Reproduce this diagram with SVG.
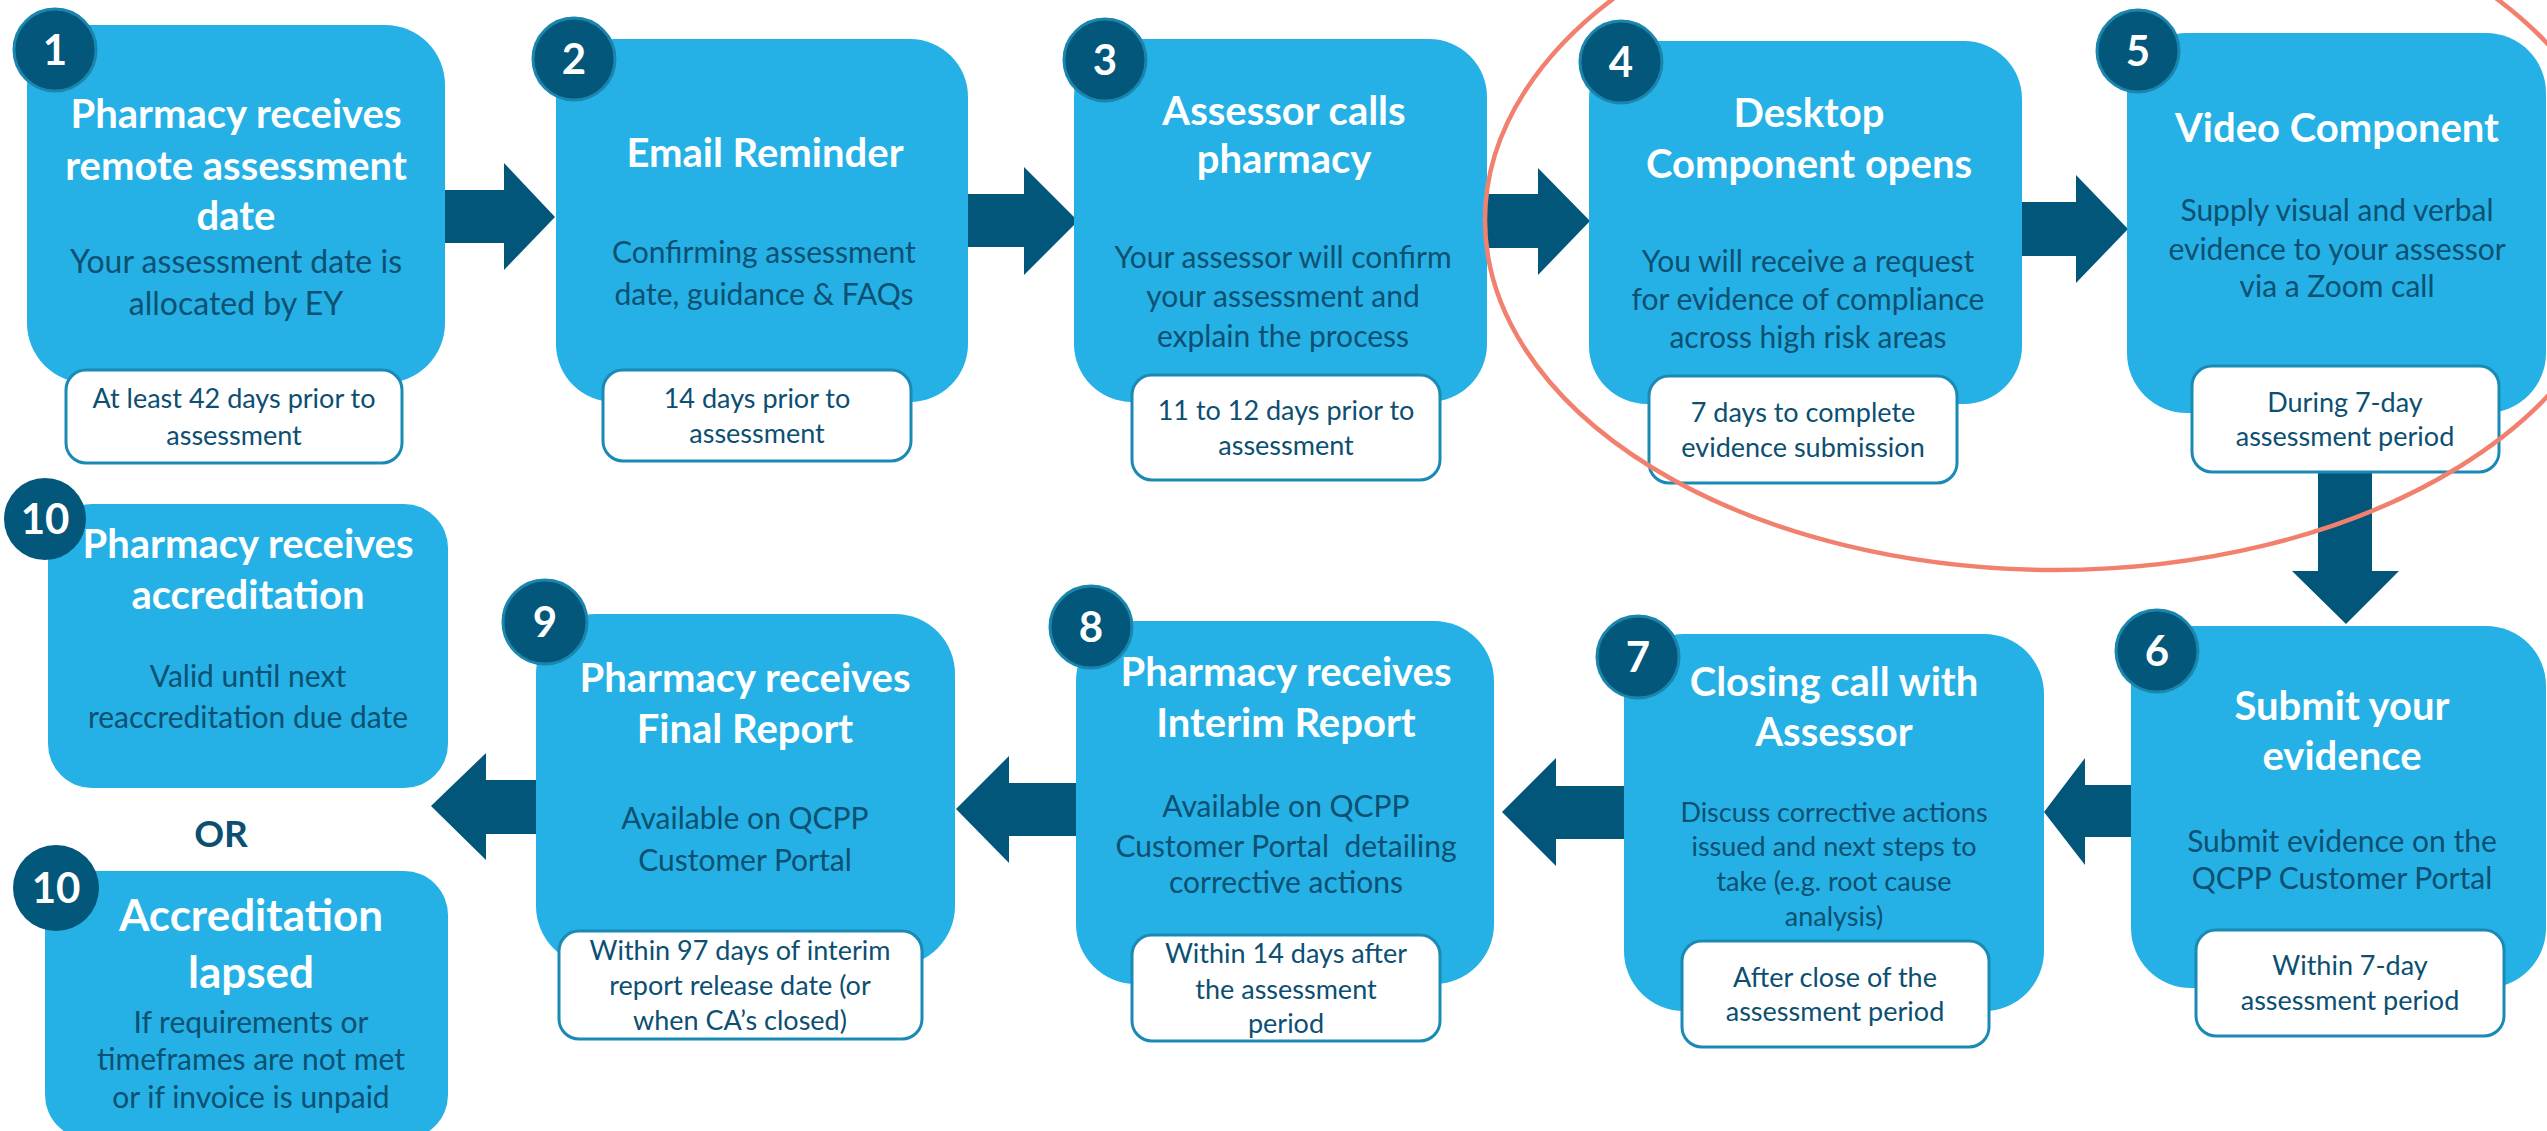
<svg xmlns="http://www.w3.org/2000/svg" width="2547" height="1131" viewBox="0 0 2547 1131">
<style>
.box{fill:#25B1E5}
.sub{fill:#FFFFFF;stroke:#1A8AB5;stroke-width:3}
.num{fill:#02577B;stroke:#1B86AD;stroke-width:3}
.arr{fill:#02567A}
text{font-family:Lato,"Open Sans","Liberation Sans",sans-serif;text-anchor:middle}
.t{fill:#FFFFFF;font-weight:700;font-size:40px}
.n{fill:#FFFFFF;font-weight:700;font-size:42px}
.b{fill:#0C5072;font-size:30px}
.s{fill:#0C4F72;font-size:27px}
.or{fill:#0B4F71;font-weight:700;font-size:37px}
</style>
<rect width="2547" height="1131" fill="#FFFFFF"/>
<g id="connectors">
<polygon class="arr" points="440,190 504,190 504,163 555,217 504,270 504,243 440,243"/>
<polygon class="arr" points="963,194 1024,194 1024,167 1078,221 1024,275 1024,247 963,247"/>
<polygon class="arr" points="1482,194 1538,194 1538,168 1590,221 1538,275 1538,248 1482,248"/>
<polygon class="arr" points="2017,202 2076,202 2076,175 2128,229 2076,283 2076,256 2017,256"/>
<polygon class="arr" points="2318,460 2372,460 2372,571 2399,571 2346,624 2292,571 2318,571"/>
<polygon class="arr" points="2136,785 2085,785 2085,758 2044,812 2085,865 2085,837 2136,837"/>
<polygon class="arr" points="1629,786 1556,786 1556,758 1502,812 1556,866 1556,839 1629,839"/>
<polygon class="arr" points="1081,783 1009,783 1009,756 956,809 1009,863 1009,836 1081,836"/>
<polygon class="arr" points="541,780 486,780 486,753 431,806 486,860 486,834 541,834"/>
</g>
<g id="node1">
<rect class="box" x="27" y="25" width="418" height="358" rx="60"/>
<rect class="sub" x="66" y="370" width="336" height="93" rx="20"/>
<circle class="num" cx="55" cy="50" r="41"/>
<text class="n" x="55" y="65">1</text>
<text class="t" x="236" y="128">Pharmacy receives</text>
<text class="t" x="236" y="180">remote assessment</text>
<text class="t" x="236" y="230">date</text>
<text class="b" x="236" y="273" style="font-size:32px">Your assessment date is</text>
<text class="b" x="236" y="315" style="font-size:32px">allocated by EY</text>
<text class="s" x="234" y="408">At least 42 days prior to</text>
<text class="s" x="234" y="445">assessment</text>
</g>
<g id="node2">
<rect class="box" x="556" y="39" width="412" height="363" rx="58"/>
<rect class="sub" x="603" y="370" width="308" height="91" rx="20"/>
<circle class="num" cx="574" cy="59" r="41"/>
<text class="n" x="574" y="74">2</text>
<text class="t" x="765" y="167">Email Reminder</text>
<text class="b" x="764" y="263">Confirming assessment</text>
<text class="b" x="764" y="305">date, guidance &amp; FAQs</text>
<text class="s" x="757" y="408">14 days prior to</text>
<text class="s" x="757" y="443">assessment</text>
</g>
<g id="node3">
<rect class="box" x="1074" y="39" width="413" height="363" rx="58"/>
<rect class="sub" x="1132" y="375" width="308" height="105" rx="20"/>
<circle class="num" cx="1105" cy="60" r="41"/>
<text class="n" x="1105" y="75">3</text>
<text class="t" x="1284" y="125">Assessor calls</text>
<text class="t" x="1284" y="173">pharmacy</text>
<text class="b" x="1283" y="268">Your assessor will confirm</text>
<text class="b" x="1283" y="307">your assessment and</text>
<text class="b" x="1283" y="347">explain the process</text>
<text class="s" x="1286" y="420">11 to 12 days prior to</text>
<text class="s" x="1286" y="455">assessment</text>
</g>
<g id="node4">
<rect class="box" x="1589" y="41" width="433" height="363" rx="58"/>
<rect class="sub" x="1649" y="376" width="308" height="107" rx="20"/>
<circle class="num" cx="1621" cy="62" r="41"/>
<text class="n" x="1621" y="77">4</text>
<text class="t" x="1809" y="127">Desktop</text>
<text class="t" x="1809" y="178">Component opens</text>
<text class="b" x="1808" y="272">You will receive a request</text>
<text class="b" x="1808" y="310">for evidence of compliance</text>
<text class="b" x="1808" y="348">across high risk areas</text>
<text class="s" x="1803" y="422">7 days to complete</text>
<text class="s" x="1803" y="457">evidence submission</text>
</g>
<g id="node5">
<rect class="box" x="2127" y="33" width="419" height="380" rx="60"/>
<rect class="sub" x="2192" y="366" width="307" height="106" rx="20"/>
<circle class="num" cx="2138" cy="51" r="41"/>
<text class="n" x="2138" y="66">5</text>
<text class="t" x="2337" y="142">Video Component</text>
<text class="b" x="2337" y="221">Supply visual and verbal</text>
<text class="b" x="2337" y="260">evidence to your assessor</text>
<text class="b" x="2337" y="297">via a Zoom call</text>
<text class="s" x="2345" y="412">During 7-day</text>
<text class="s" x="2345" y="446">assessment period</text>
</g>
<g id="node6">
<rect class="box" x="2131" y="626" width="415" height="362" rx="60"/>
<rect class="sub" x="2196" y="930" width="308" height="106" rx="20"/>
<circle class="num" cx="2157" cy="651" r="41"/>
<text class="n" x="2157" y="666">6</text>
<text class="t" x="2342" y="720">Submit your</text>
<text class="t" x="2342" y="770">evidence</text>
<text class="b" x="2342" y="852">Submit evidence on the</text>
<text class="b" x="2342" y="889">QCPP Customer Portal</text>
<text class="s" x="2350" y="975">Within 7-day</text>
<text class="s" x="2350" y="1010">assessment period</text>
</g>
<g id="node7">
<rect class="box" x="1624" y="634" width="420" height="377" rx="60"/>
<rect class="sub" x="1682" y="941" width="307" height="106" rx="20"/>
<circle class="num" cx="1638" cy="657" r="41"/>
<text class="n" x="1638" y="672">7</text>
<text class="t" x="1834" y="696">Closing call with</text>
<text class="t" x="1834" y="746">Assessor</text>
<text class="b" x="1834" y="822" style="font-size:27px">Discuss corrective actions</text>
<text class="b" x="1834" y="856" style="font-size:27px">issued and next steps to</text>
<text class="b" x="1834" y="891" style="font-size:27px">take (e.g. root cause</text>
<text class="b" x="1834" y="926" style="font-size:27px">analysis)</text>
<text class="s" x="1835" y="987">After close of the</text>
<text class="s" x="1835" y="1021">assessment period</text>
</g>
<g id="node8">
<rect class="box" x="1076" y="621" width="418" height="363" rx="60"/>
<rect class="sub" x="1132" y="935" width="308" height="106" rx="20"/>
<circle class="num" cx="1091" cy="627" r="41"/>
<text class="n" x="1091" y="642">8</text>
<text class="t" x="1286" y="686">Pharmacy receives</text>
<text class="t" x="1286" y="737">Interim Report</text>
<text class="b" x="1286" y="817">Available on QCPP</text>
<text class="b" x="1286" y="857" xml:space="preserve">Customer Portal  detailing</text>
<text class="b" x="1286" y="893">corrective actions</text>
<text class="s" x="1286" y="963">Within 14 days after</text>
<text class="s" x="1286" y="999">the assessment</text>
<text class="s" x="1286" y="1033">period</text>
</g>
<g id="node9">
<rect class="box" x="536" y="614" width="419" height="352" rx="60"/>
<rect class="sub" x="559" y="931" width="363" height="108" rx="20"/>
<circle class="num" cx="545" cy="622" r="42"/>
<text class="n" x="545" y="637">9</text>
<text class="t" x="745" y="692">Pharmacy receives</text>
<text class="t" x="745" y="743">Final Report</text>
<text class="b" x="745" y="829">Available on QCPP</text>
<text class="b" x="745" y="871">Customer Portal</text>
<text class="s" x="740" y="960">Within 97 days of interim</text>
<text class="s" x="740" y="995">report release date (or</text>
<text class="s" x="740" y="1030">when CA’s closed)</text>
</g>
<g id="node10a">
<rect class="box" x="48" y="504" width="400" height="284" rx="44"/>
<circle class="num" cx="45" cy="519" r="41" style="stroke:none"/>
<text class="n" x="45" y="534">10</text>
<text class="t" x="248" y="558">Pharmacy receives</text>
<text class="t" x="248" y="609">accreditation</text>
<text class="b" x="248" y="687">Valid until next</text>
<text class="b" x="248" y="728">reaccreditation due date</text>
</g>
<g id="or">
<text class="or" x="221" y="847">OR</text>
</g>
<g id="node10b">
<rect class="box" x="45" y="871" width="403" height="268" rx="44"/>
<circle class="num" cx="56" cy="888" r="43" style="stroke:none"/>
<text class="n" x="56" y="903">10</text>
<text class="t" x="251" y="931" style="font-size:44px">Accreditation</text>
<text class="t" x="251" y="988" style="font-size:44px">lapsed</text>
<text class="b" x="251" y="1033">If requirements or</text>
<text class="b" x="251" y="1070">timeframes are not met</text>
<text class="b" x="251" y="1108">or if invoice is unpaid</text>
</g>
<g id="highlight">
<ellipse cx="2055" cy="220" rx="570" ry="350" fill="none" stroke="#F2806E" stroke-width="4.5"/>
</g>
</svg>
